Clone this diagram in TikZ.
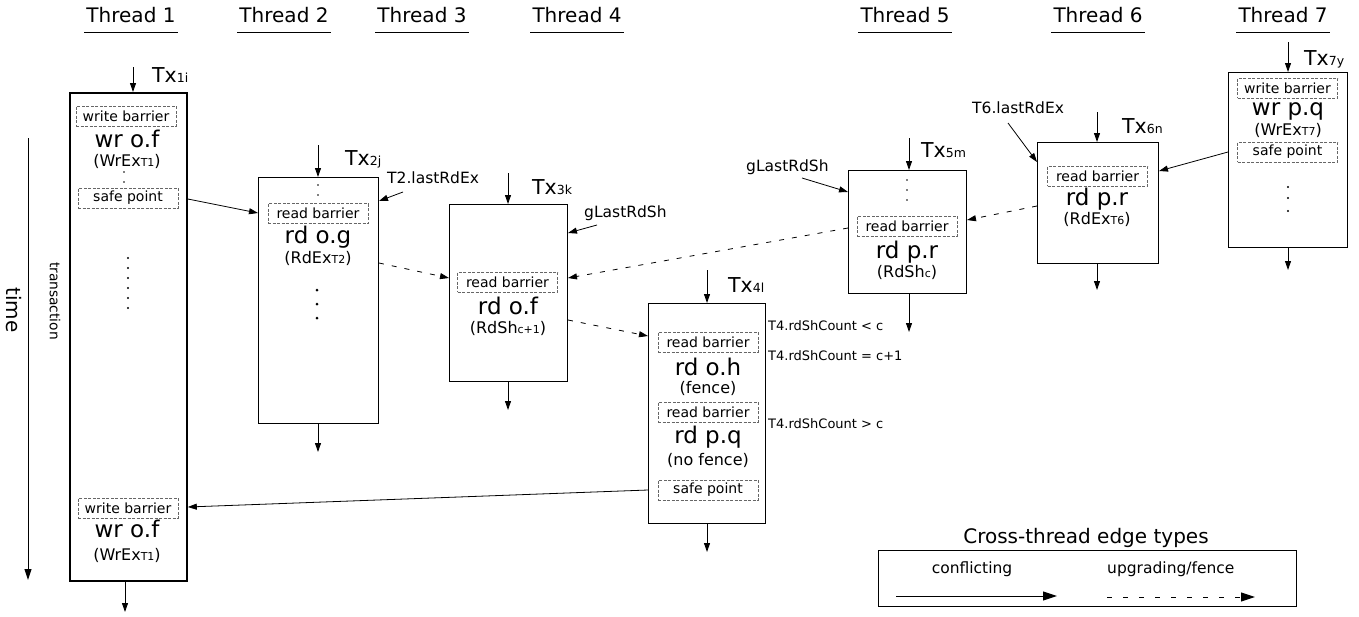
\documentclass[tikz,border=0pt]{standalone}
\usepackage{fontspec}
\setmainfont{DejaVu Sans}
\usetikzlibrary{arrows.meta,calc}
\newcommand\fsz[1]{\fontsize{#1}{#1}\selectfont}
\newcommand\sbs[1]{{\fsz{11}#1}}
\newcommand\txs[1]{{\fsz{12.5}#1}}

\begin{document}
\begin{tikzpicture}[x=1pt,y=-1pt,
  thr/.style={font=\fsz{20}, inner sep=2pt, anchor=base},
  txbox/.style={draw, line width=1pt, anchor=north west, inner sep=0pt},
  bar/.style={draw=black!60, line width=0.8pt, dash pattern=on 3pt off 1.5pt,
    minimum width=100pt, minimum height=20pt, inner sep=0pt, font=\fsz{14}},
  op/.style={font=\fsz{23}, anchor=base, inner sep=0pt},
  opnote/.style={font=\fsz{16}, anchor=base, inner sep=0pt},
  txl/.style={font=\fsz{20.5}, anchor=base west, inner sep=0pt},
  ann/.style={font=\fsz{15.5}, anchor=base west, inner sep=0pt},
  cnt/.style={font=\fsz{13}, anchor=base west, inner sep=0pt},
  flow/.style={-{Triangle[length=9pt,width=6pt]}, line width=0.9pt},
  conf/.style={-{Triangle[length=9pt,width=6pt]}, line width=0.8pt},
  upg/.style={conf, dash pattern=on 5pt off 8pt},
  dot/.style={fill=black},
]
\useasboundingbox (0,0) rectangle (1359,616);

% ---------- thread headers ----------
\foreach \n/\x in {1/131,2/284,3/422,4/577,5/905,6/1098,7/1283}{
  \node[thr] (h\n) at (\x,22) {Thread \n};
  \draw[line width=1pt] (h\n.west |- 0,32) -- (h\n.east |- 0,32);
}

% ---------- time axis ----------
\coordinate (ttop) at (28,138);
\coordinate (tbot) at (28,580);
\draw[-{Triangle[length=11pt,width=7pt]}, line width=1pt] (ttop) -- (tbot);
\node[font=\fsz{20}, rotate=-90] (time) at (14,310) {time};
\node[font=\fsz{13.8}, rotate=-90] (trans) at (55,301) {transaction};

% ---------- Thread 1 ----------
\node[txbox, line width=1.8pt, minimum width=117pt, minimum height=488pt] (b1) at (69,92) {};
\node[txl] (tx1) at (152,82) {Tx\txs{1i}};
\node[bar] (wb1) at (126,116) {write barrier};
\node[op] (op1) at (127,147) {wr o.f};
\node[opnote] (n1) at (127,166) {(WrEx\sbs{T1})};
\foreach \y in {172,182} \fill[dot] (124,\y) circle (0.9);
\node[bar] (sp1) at (128,198) {safe point};
\foreach \y in {258,268,...,308} \fill[dot] (128,\y) circle (1.2);
\node[bar] (wb1b) at (128,508) {write barrier};
\node[op] (op1b) at (127,537) {wr o.f};
\node[opnote] (n1b) at (127,560) {(WrEx\sbs{T1})};
\coordinate (i1) at (133,67);
\coordinate (o1) at (125,612);
\draw[flow] (i1) -- (i1 |- b1.north);
\draw[flow] (o1 |- b1.south) -- (o1);

% ---------- Thread 2 ----------
\node[txbox, minimum width=120pt, minimum height=246pt] (b2) at (258,177) {};
\node[txl] (tx2) at (345,165) {Tx\txs{2j}};
\foreach \y in {185,195} \fill[dot] (318,\y) circle (0.9);
\node[bar] (rb2) at (318,213.5) {read barrier};
\node[op] (op2) at (318,243) {rd o.g};
\node[opnote] (n2) at (318,263) {(RdEx\sbs{T2})};
\foreach \y in {290,304,318} \fill[dot] (317,\y) circle (1.5);
\coordinate (i2) at (318,145);
\coordinate (o2) at (318,452);
\draw[flow] (i2) -- (i2 |- b2.north);
\draw[flow] (o2 |- b2.south) -- (o2);
\node[ann] (l2) at (387,183) {T2.lastRdEx};
\draw[conf] ($(l2.base west)+(16,9)$) -- ($(b2.north east)+(0,24)$);

% ---------- Thread 3 ----------
\node[txbox, minimum width=118pt, minimum height=177pt] (b3) at (449,204) {};
\node[txl] (tx3) at (532,194) {Tx\txs{3k}};
\node[bar] (rb3) at (507.5,282) {read barrier};
\node[op] (op3) at (508,314) {rd o.f};
\node[opnote] (n3) at (508,333) {(RdSh\sbs{c+1})};
\coordinate (i3) at (508,173);
\coordinate (o3) at (508,410);
\draw[flow] (i3) -- (i3 |- b3.north);
\draw[flow] (o3 |- b3.south) -- (o3);
\node[ann] (l3) at (584,217) {gLastRdSh};
\draw[conf] ($(l3.base west)+(13,8)$) -- ($(b3.north east)+(0,29)$);

% ---------- Thread 4 ----------
\node[txbox, minimum width=117pt, minimum height=220pt] (b4) at (648,303) {};
\node[txl] (tx4) at (728,292) {Tx\txs{4l}};
\node[bar] (rb4a) at (708,342) {read barrier};
\node[op] (op4a) at (708,375) {rd o.h};
\node[opnote] (n4a) at (708,393) {(fence)};
\node[bar] (rb4b) at (708,412) {read barrier};
\node[op] (op4b) at (708,443) {rd p.q};
\node[opnote] (n4b) at (708,465) {(no fence)};
\node[bar] (sp4) at (708,490) {safe point};
\coordinate (i4) at (707,270);
\coordinate (o4) at (707,552);
\draw[flow] (i4) -- (i4 |- b4.north);
\draw[flow] (o4 |- b4.south) -- (o4);
\node[cnt] (c4a) at (768,330) {T4.rdShCount < c};
\node[cnt] (c4b) at (768,360) {T4.rdShCount = c+1};
\node[cnt] (c4c) at (768,428) {T4.rdShCount > c};

% ---------- Thread 5 ----------
\node[txbox, minimum width=118pt, minimum height=123pt] (b5) at (848,170) {};
\node[txl] (tx5) at (921,157) {Tx\txs{5m}};
\foreach \y in {180,190,200} \fill[dot] (907,\y) circle (0.9);
\node[bar] (rb5) at (907,226) {read barrier};
\node[op] (op5) at (907,258) {rd p.r};
\node[opnote] (n5) at (907,277) {(RdSh\sbs{c})};
\coordinate (i5) at (909,138);
\coordinate (o5) at (909,332);
\draw[flow] (i5) -- (i5 |- b5.north);
\draw[flow] (o5 |- b5.south) -- (o5);
\node[ann] (l5) at (746,171) {gLastRdSh};
\draw[conf] ($(l5.base west)+(56,7)$) -- ($(b5.north west)+(0,22)$);

% ---------- Thread 6 ----------
\node[txbox, minimum width=121pt, minimum height=121pt] (b6) at (1037,142) {};
\node[txl] (tx6) at (1122,133) {Tx\txs{6n}};
\node[bar] (rb6) at (1097.5,176) {read barrier};
\node[op] (op6) at (1097,205) {rd p.r};
\node[opnote] (n6) at (1097,224) {(RdEx\sbs{T6})};
\coordinate (i6) at (1097,112);
\coordinate (o6) at (1097,290);
\draw[flow] (i6) -- (i6 |- b6.north);
\draw[flow] (o6 |- b6.south) -- (o6);
\node[ann] (l6) at (972,113) {T6.lastRdEx};
\draw[conf] ($(l6.base west)+(36,10)$) -- ($(b6.north west)+(0,20)$);

% ---------- Thread 7 ----------
\node[txbox, minimum width=119pt, minimum height=175pt] (b7) at (1228,72) {};
\node[txl] (tx7) at (1304,65) {Tx\txs{7y}};
\node[bar] (wb7) at (1287.5,88) {write barrier};
\node[op] (op7) at (1288,115) {wr p.q};
\node[opnote] (n7) at (1288,135) {(WrEx\sbs{T7})};
\node[bar] (sp7) at (1287.5,152) {safe point};
\foreach \y in {187,198,211} \fill[dot] (1288,\y) circle (1.2);
\coordinate (i7) at (1288,42);
\coordinate (o7) at (1288,270);
\draw[flow] (i7) -- (i7 |- b7.north);
\draw[flow] (o7 |- b7.south) -- (o7);

% ---------- cross-thread edges ----------
\draw[conf] ($(b1.north east)+(0,107)$) -- ($(b2.north west)+(0,36)$);
\draw[upg]  ($(b2.north east)+(0,86)$)  -- ($(b3.north west)+(0,74)$);
\draw[upg]  ($(b3.north east)+(0,116)$) -- ($(b4.north west)+(0,33)$);
\draw[upg]  ($(b5.north west)+(0,58)$)  -- ($(b3.north east)+(0,74)$);
\draw[upg]  ($(b6.north west)+(0,64)$)  -- ($(b5.north east)+(0,50)$);
\draw[conf] ($(b7.north west)+(0,80)$)  -- ($(b6.north east)+(0,29)$);
\draw[conf] ($(b4.north west)+(0,187)$) -- ($(b1.north east)+(0,415)$);

% ---------- legend ----------
\node[font=\fsz{20}, anchor=base, inner sep=0pt] (lgt) at (1086,543) {Cross-thread edge types};
\node[draw, line width=1pt, anchor=north west, inner sep=0pt,
      minimum width=418pt, minimum height=56pt] (lg) at (878,550) {};
\node[font=\fsz{15.5}, anchor=base, inner sep=0pt] (lgc) at (972,573) {conflicting};
\node[font=\fsz{15.5}, anchor=base west, inner sep=0pt] (lgu) at (1107,573) {upgrading/fence};
\draw[-{Triangle[length=14pt,width=9pt]}, line width=1pt]
  ($(lg.north west)+(18,46)$) -- ($(lg.north west)+(179,46)$);
\draw[-{Triangle[length=14pt,width=9pt]}, line width=1pt, dash pattern=on 5pt off 11pt]
  ($(lg.north west)+(229,47)$) -- ($(lg.north west)+(377,47)$);
\end{tikzpicture}
\end{document}
